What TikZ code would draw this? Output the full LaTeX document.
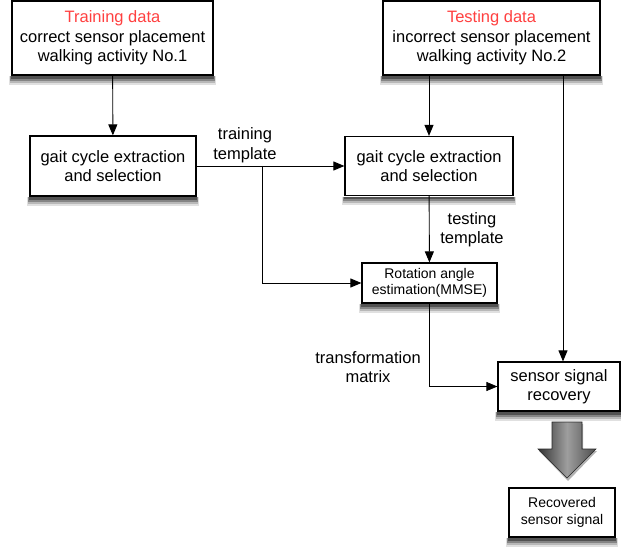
\documentclass[tikz,border=0pt]{standalone}
\usepackage{fontspec}
\setmainfont{Liberation Sans}
\usetikzlibrary{arrows.meta, positioning}
\definecolor{datared}{RGB}{255,64,64}

\begin{document}
\begin{tikzpicture}[
    x=1pt, y=1pt,
    every node/.style={font=\fontsize{16.5}{19.5}\selectfont},
    box/.style={rectangle, draw, line width=1.2pt, fill=white, align=center, inner sep=2pt},
    smallbox/.style={box, font=\fontsize{14}{16.7}\selectfont},
    lbl/.style={align=center, inner sep=0pt},
    arrow/.style={-{Triangle[length=11pt, width=9pt]}, line width=0.9pt}
]

\useasboundingbox (0,0) rectangle (621,-548);

% input data
\node[box, minimum width=201pt, minimum height=74pt] (train) at (112.5,-38)
    {\textcolor{datared}{Training data}\\correct sensor placement\\walking activity No.1};
\node[box, minimum width=217pt, minimum height=74pt] (test) at (491.5,-38)
    {\textcolor{datared}{Testing data}\\incorrect sensor placement\\walking activity No.2};

% processing
\node[box, minimum width=166pt, minimum height=60pt] (gait1) at (113,-166)
    {gait cycle extraction\\and selection};
\node[box, minimum width=168pt, minimum height=59pt] (gait2) at (429,-166)
    {gait cycle extraction\\and selection};
\node[smallbox, minimum width=135pt, minimum height=40pt] (rot) at (429.5,-283)
    {Rotation angle\\estimation(MMSE)};
\node[box, minimum width=122pt, minimum height=49pt] (rec) at (559,-386.5)
    {sensor signal\\recovery};
\node[smallbox, minimum width=106pt, minimum height=49pt] (out) at (562,-512.5)
    {Recovered\\sensor signal};

% shadow bands under the boxes
\foreach \n in {train, test, gait1, gait2, rot, rec, out} {
    \fill[black!12] ([xshift=-2pt, yshift=-0.6pt]\n.south west) rectangle ([xshift=2pt, yshift=-9pt]\n.south east);
    \fill[black!28] ([xshift=-1.5pt, yshift=-0.6pt]\n.south west) rectangle ([xshift=1.5pt, yshift=-7pt]\n.south east);
    \fill[black!48] ([xshift=-1pt, yshift=-0.6pt]\n.south west) rectangle ([xshift=1pt, yshift=-5pt]\n.south east);
    \fill[black!68] ([yshift=-0.6pt]\n.south west) rectangle ([yshift=-3.2pt]\n.south east);
}

% labels
\node[lbl] (trtmp) at (245,-145) {training\\template};
\node[lbl] (tstmp) at (472,-229.5) {testing\\template};
\node[lbl] (tfmat) at (368,-367) {transformation\\matrix};

\coordinate (split) at (262,-166);

\draw[arrow] (train) -- (gait1);
\draw[arrow] (gait2.north |- test.south) -- (gait2.north);
\draw[arrow] (gait1.east) -- (gait2.west);
\draw[arrow] (split) |- (rot.west);
\draw[arrow] (gait2) -- (rot);
\draw[arrow] (rot.south) |- (rec.west);
\draw[arrow] ([xshift=4pt]rec.north |- test.south) -- ([xshift=4pt]rec.north);

% big output arrow
\fill[black!30] (553,-424) -- (583,-424) -- (583,-451) -- (597,-451) -- (568,-481) -- (539,-451) -- (553,-451) -- cycle;
\path[draw=black!85, line width=0.6pt, left color=black!80, right color=black!70, middle color=black!38]
    (552,-422) -- (582,-422) -- (582,-449) -- (596,-449) -- (567,-478) -- (538,-449) -- (552,-449) -- cycle;

\end{tikzpicture}
\end{document}
